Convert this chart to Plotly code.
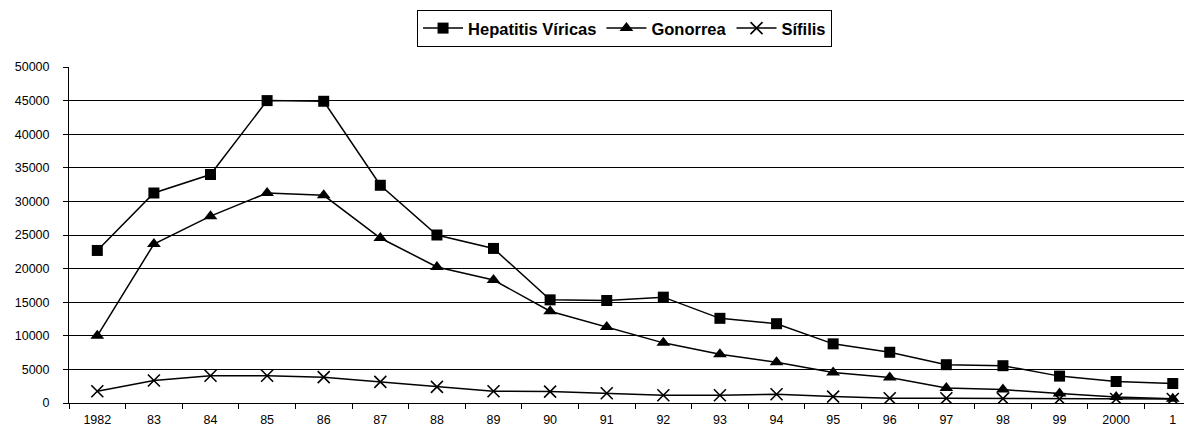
import plotly.graph_objects as go

years = ["1982", "83", "84", "85", "86", "87", "88", "89", "90", "91",
         "92", "93", "94", "95", "96", "97", "98", "99", "2000", "1"]
hepatitis = [22700, 31250, 34000, 45000, 44900, 32400, 25000, 23000, 15350, 15250,
             15750, 12600, 11800, 8800, 7550, 5700, 5550, 4000, 3200, 2900]
gonorrea = [10000, 23650, 27800, 31250, 30900, 24550, 20250, 18300, 13650, 11300,
            8950, 7250, 6050, 4550, 3800, 2250, 2000, 1400, 900, 650]
sifilis = [1750, 3350, 4050, 4050, 3850, 3150, 2400, 1750, 1700, 1450,
           1150, 1150, 1300, 950, 700, 700, 650, 600, 600, 600]

fig = go.Figure()
fig.add_trace(go.Scatter(x=years, y=hepatitis, name="Hepatitis Víricas", mode="lines+markers",
                         line=dict(color="black", width=1.5),
                         marker=dict(symbol="square", size=11, color="black")))
fig.add_trace(go.Scatter(x=years, y=gonorrea, name="Gonorrea", mode="lines+markers",
                         line=dict(color="black", width=1.5),
                         marker=dict(symbol="triangle-up", size=12, color="black")))
fig.add_trace(go.Scatter(x=years, y=sifilis, name="Sífilis", mode="lines+markers",
                         line=dict(color="black", width=1.5),
                         marker=dict(symbol="x-thin-open", size=12, color="black",
                                     line=dict(color="black", width=1.6))))

# page body has an 8px margin: figure spans page x 8..1192, y 8..434
fig.update_layout(
    width=1184, height=426,
    margin=dict(l=61, r=0, t=59, b=31),
    paper_bgcolor="white", plot_bgcolor="white",
    font=dict(family="Liberation Sans, Arial, sans-serif", size=12.5, color="black"),
    showlegend=True,
    legend=dict(orientation="h", x=0.4947, xanchor="center", y=1.17, yanchor="top",
                bordercolor="black", borderwidth=1,
                font=dict(size=16.5, weight="bold", color="black"),
                itemwidth=40, tracegroupgap=0),
)
fig.update_xaxes(type="category", range=[-0.5, 19.34], tickson="boundaries",
                 ticks="outside", ticklen=5, tickcolor="black", showgrid=False,
                 showline=True, linecolor="black", linewidth=1,
                 ticklabelstandoff=5, tickfont=dict(size=12.5))
fig.update_yaxes(range=[0, 50000], tickvals=list(range(0, 50001, 5000)),
                 tickformat="d", ticks="outside", ticklen=5, tickcolor="black",
                 showgrid=True, gridcolor="black", gridwidth=1,
                 showline=True, linecolor="black", linewidth=1, zeroline=False,
                 ticklabelstandoff=11, tickfont=dict(size=12.5))

fig.write_html("out.html")
